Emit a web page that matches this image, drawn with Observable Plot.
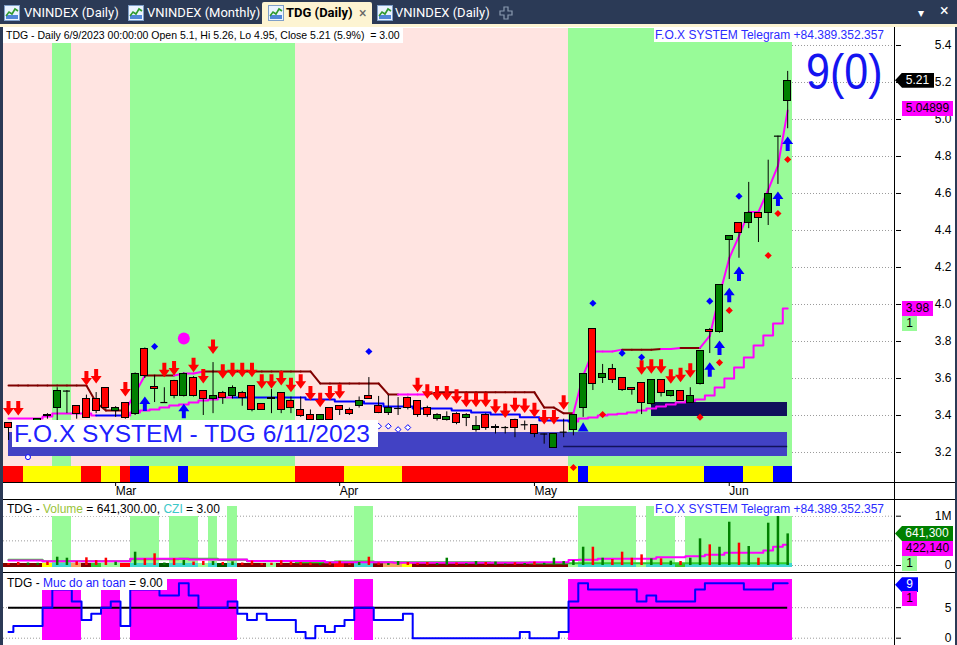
<!DOCTYPE html>
<html><head><meta charset="utf-8"><title>TDG (Daily)</title>
<script src="https://cdn.jsdelivr.net/npm/d3@7"></script>
<script src="https://cdn.jsdelivr.net/npm/@observablehq/plot@0.6"></script>
<style>
html,body{margin:0;padding:0;background:#2b3a56;}
#root{position:relative;width:957px;height:645px;overflow:hidden;background:#2b3a56;font-family:"Liberation Sans",Arial,sans-serif;}
.abs{position:absolute;}
.ra svg text{text-anchor:end;}
.ma svg text{text-anchor:start;}
.tabtxt{position:absolute;top:4px;font-family:Roboto,"Liberation Sans",Arial,sans-serif;font-size:13px;line-height:18px;color:#fff;white-space:nowrap;}
.icon{position:absolute;top:5px;width:16px;height:16px;}
.lbl{position:absolute;font-size:12px;line-height:15px;height:15px;text-align:center;white-space:nowrap;}
.hl{position:absolute;background:#000;height:1px;}
</style></head>
<body><div id="root">
  <!-- tab bar -->
  <div class="abs" style="left:262px;top:2px;width:110px;height:25px;background:#fdf4d2;border-radius:2px 2px 0 0"></div>
  <div class="abs" style="left:0;top:24px;width:957px;height:3px;background:#fdf4d2"></div>
  <div id="icons"></div>
  <div class="tabtxt" style="left:24px">VNINDEX (Daily)</div>
  <div class="tabtxt" style="left:147px">VNINDEX (Monthly)</div>
  <div class="tabtxt" style="left:286px;color:#000;font-weight:bold">TDG (Daily)</div>
  <div class="tabtxt" style="left:359px;color:#666;font-size:14px">×</div>
  <div class="tabtxt" style="left:395px">VNINDEX (Daily)</div>
  <svg class="abs" style="left:499px;top:6px" width="14" height="14"><path d="M5 1H9V5H13V9H9V13H5V9H1V5H5Z" fill="none" stroke="#8a9ab0" stroke-width="1.2"/></svg>
  <div class="tabtxt" style="left:918px;font-size:12px">▾</div>
  <div class="tabtxt" style="left:940px;font-size:16px;top:2px">×</div>
  <!-- white panes -->
  <div class="abs" style="left:3px;top:27px;width:952px;height:618px;background:#fff"></div>
  <div id="stripBox" class="abs ma" style="left:0;top:466px"></div>
  <div id="volBox" class="abs ra" style="left:0;top:500px"></div>
  <div id="safeBox" class="abs ra" style="left:0;top:573px"></div>
  <div id="mainBox" class="abs ra" style="left:0;top:28px"></div>
  <!-- separators -->
  <div class="hl" style="left:3px;top:482px;width:952px"></div>
  <div class="hl" style="left:3px;top:499px;width:952px"></div>
  <div class="hl" style="left:3px;top:572px;width:952px"></div>
  <div class="abs" style="left:894px;top:27px;width:1px;height:618px;background:#000"></div>
  <!-- pane texts -->
  <div class="abs" style="left:3px;top:28px;background:#fff;padding:0 3px;font-size:10.5px;line-height:15px;white-space:pre;color:#000">TDG - Daily 6/9/2023 00:00:00 Open 5.1, Hi 5.26, Lo 4.95, Close 5.21 (5.9%)  = 3.00</div>
  <div class="abs" style="right:73px;top:28px;background:#fff;color:#2b2bff;font-size:12px;line-height:14px;padding-left:1px">F.O.X SYSTEM Telegram +84.389.352.357</div>
  <div class="abs" style="left:806px;top:47px;color:#1414f0;font-size:43px;line-height:43px;transform:scaleY(1.17);transform-origin:0 0">9(0)</div>
  <div class="abs" style="left:12px;top:420px;width:364px;height:27px;background:#fff;color:#2020ff;font-size:24.5px;line-height:27px;padding-left:2px;white-space:nowrap">F.O.X SYSTEM - TDG 6/11/2023</div>
  <div class="abs" style="left:3px;top:502px;background:#fff;padding:0 4px;font-size:12px;line-height:14px;white-space:nowrap">TDG - <span style="color:#9ac43a">Volume</span> = 641,300.00, <span style="color:#3cc8c8">CZI</span> = 3.00</div>
  <div class="abs" style="right:73px;top:502px;background:#fff;color:#2b2bff;font-size:12px;line-height:14px;padding-left:1px">F.O.X SYSTEM Telegram +84.389.352.357</div>
  <div class="abs" style="left:3px;top:576px;background:#fff;padding:0 4px;font-size:12px;line-height:14px;white-space:nowrap">TDG - <span style="color:#1a1aff">Muc do an toan</span> = 9.00</div>
  <div id="labels"></div>
</div>
<script>
// ===================== DATA =====================
const monthNames = ["Mar", "Apr", "May", "Jun"];
const monthStartIdx = [11, 34, 54, 74];
const priceTicks = [3.2, 3.4, 3.6, 3.8, 4.0, 4.2, 4.4, 4.6, 4.8, 5.0, 5.2, 5.4];
const volTicks = [0, 1000];          // thousands of shares
const volGridLines = [0, 500, 1000];
const safetyTicks = [0, 5];

const open = [3.357,3.35,3.34,3.37,3.40,3.438,3.53,3.454,3.49,3.49,
  3.546,3.422,3.465,3.41,3.762,3.553,3.47,3.584,3.503,3.60,
  3.53,3.49,3.519,3.503,3.524,3.557,3.46,3.497,3.519,3.481,
  3.432,3.405,3.378,3.438,3.449,3.432,3.449,3.503,3.449,3.416,
  3.438,3.492,3.476,3.443,3.38,3.378,3.41,3.389,3.32,3.40,
  3.33,3.335,3.378,3.35,3.35,3.30,3.227,3.31,3.32,3.438,
  3.87,3.60,3.649,3.60,3.551,3.573,3.46,3.59,3.503,3.53,
  3.47,3.568,3.86,3.849,4.346,4.443,4.438,4.497,4.497,4.91,
  5.1];
const high = [3.36,3.36,3.36,3.38,3.41,3.55,3.535,3.454,3.51,3.524,
  3.55,3.448,3.47,3.63,3.765,3.616,3.55,3.59,3.63,3.61,
  3.53,3.686,3.53,3.56,3.53,3.56,3.46,3.54,3.52,3.50,
  3.50,3.43,3.40,3.44,3.45,3.44,3.50,3.605,3.503,3.508,
  3.497,3.50,3.48,3.45,3.41,3.42,3.415,3.41,3.395,3.41,
  3.35,3.34,3.38,3.37,3.35,3.30,3.30,3.38,3.40,3.627,
  3.87,3.676,3.676,3.60,3.551,3.573,3.59,3.59,3.53,3.53,
  3.55,3.751,3.87,4.108,4.373,4.443,4.66,4.497,4.78,4.91,
  5.26];
const low = [3.265,3.30,3.30,3.33,3.38,3.37,3.41,3.38,3.384,3.41,
  3.43,3.39,3.38,3.40,3.60,3.47,3.465,3.49,3.50,3.50,
  3.40,3.41,3.46,3.49,3.45,3.42,3.43,3.41,3.41,3.41,
  3.39,3.37,3.36,3.36,3.40,3.40,3.44,3.49,3.41,3.40,
  3.40,3.43,3.39,3.39,3.37,3.37,3.35,3.34,3.31,3.32,
  3.30,3.30,3.28,3.32,3.28,3.245,3.227,3.28,3.29,3.39,
  3.535,3.573,3.573,3.53,3.51,3.405,3.455,3.50,3.50,3.48,
  3.47,3.565,3.735,3.845,4.135,4.25,4.41,4.335,4.427,4.649,
  4.95];
const close = [3.33,3.33,3.35,3.38,3.395,3.535,3.532,3.41,3.384,3.427,
  3.438,3.438,3.384,3.627,3.616,3.545,3.47,3.503,3.627,3.503,
  3.49,3.508,3.497,3.551,3.497,3.432,3.432,3.49,3.432,3.443,
  3.395,3.378,3.405,3.378,3.432,3.41,3.481,3.49,3.416,3.438,
  3.438,3.443,3.40,3.40,3.40,3.39,3.357,3.40,3.341,3.33,
  3.34,3.335,3.33,3.35,3.30,3.30,3.30,3.31,3.40,3.627,
  3.568,3.627,3.59,3.54,3.54,3.47,3.59,3.519,3.53,3.481,
  3.508,3.751,3.85,4.108,4.37,4.389,4.492,4.47,4.595,4.91,
  5.21];

const upperLine = [3.562,3.562,3.562,3.562,3.562,3.562,3.562,3.562,3.562,3.47,
  3.427,3.427,3.427,3.52,3.616,3.616,3.616,3.616,3.627,3.627,
  3.638,3.638,3.638,3.638,3.638,3.638,3.638,3.638,3.638,3.638,
  3.638,3.638,3.573,3.573,3.573,3.573,3.573,3.573,3.573,3.514,
  3.514,3.514,3.514,3.514,3.525,3.525,3.525,3.525,3.525,3.525,
  3.525,3.525,3.525,3.525,3.525,3.443,3.443,3.412,3.412,3.616,
  3.746,3.746,3.746,3.756,3.756,3.756,3.756,3.76,3.76,3.765,
  3.765,3.765,3.83,4.05,4.25,4.37,4.50,4.50,4.62,4.75,
  5.04899];
const upperMagentaSegments = [12,13,17,18,19,40,41,42,58,59,60,61,62,67,68,71,72,73,74,75,76,77,78,79];

const lowerLine = [3.384,3.384,3.384,3.384,3.395,3.411,3.411,3.411,3.411,3.40,
  3.40,3.40,3.40,3.416,3.427,3.432,3.443,3.454,3.459,3.47,
  3.481,3.486,3.497,3.497,3.497,3.497,3.497,3.497,3.497,3.497,
  3.497,3.486,3.486,3.486,3.476,3.476,3.476,3.465,3.465,3.449,
  3.449,3.449,3.438,3.438,3.438,3.438,3.427,3.427,3.416,3.416,
  3.405,3.405,3.405,3.39,3.39,3.373,3.373,3.373,3.368,3.384,
  3.389,3.40,3.405,3.41,3.416,3.427,3.438,3.449,3.459,3.47,
  3.478,3.486,3.508,3.551,3.60,3.659,3.714,3.778,3.832,3.897,
  3.978];
const lowerMagentaRanges = [[0, 8], [12, 22], [58, 80]];

const trendGreenRanges = [[5, 6], [13, 29], [58, 80]];
const signalStrip = [[0,1,"r"],[2,7,"y"],[8,9,"r"],[10,11,"y"],[12,12,"r"],[13,14,"b"],[15,17,"y"],
  [18,18,"b"],[19,29,"y"],[30,34,"r"],[35,40,"y"],[41,57,"r"],[58,58,"y"],[59,59,"b"],[60,71,"y"],
  [72,75,"b"],[76,78,"y"],[79,80,"b"]];

const sellIdx = [0,1,8,9,12,16,17,19,20,21,22,23,24,25,26,27,28,29,30,31,32,33,34,
  42,43,44,45,46,47,48,49,50,51,52,53,54,55,56,57,65,66,67,68,69,70];
const sellTip = [3.40,3.40,3.562,3.573,3.503,3.607,3.616,3.634,3.573,3.733,3.598,3.607,3.607,3.607,3.544,3.544,3.562,3.526,3.544,3.481,3.445,3.481,3.49,
  3.526,3.49,3.481,3.481,3.463,3.445,3.445,3.445,3.409,3.387,3.418,3.413,3.391,3.351,3.351,3.431,3.62,3.625,3.625,3.571,3.58,3.604];
const buyIdx = [14, 18, 72, 73, 74, 75, 79, 80];
const buyTip = [3.503, 3.463, 3.688, 3.805, 4.09, 4.205, 4.611, 4.908];
const blueDotIdx = [15, 37, 60, 63, 65, 72, 75];
const blueDotP = [3.773, 3.746, 4.007, 3.737, 3.715, 4.018, 4.585];
const redDotIdx = [58, 61, 71, 73, 74, 78, 79, 80];
const redDotP = [3.119, 3.405, 3.391, 3.686, 3.968, 4.265, 4.492, 4.784];
const hollowIdx = [38, 39, 40, 41];
const hollowP = [3.342, 3.342, 3.324, 3.335];
const circleIdx = [2], circleP = [3.175];
const bigDotIdx = [18], bigDotP = [3.816];
const triIdx = [59], triP = [3.33];
const supportZone = [{from: 0, to: 80, lo: 3.178, hi: 3.308}];
const supportLine = [{from: 57, to: 80, p: 3.232}];
const boxZone = [{from: 66, to: 80, lo: 3.395, hi: 3.47}];

// volume, thousands of shares
const volume = [40,60,50,45,70,168,148,75,156,100,
  148,67,34,270,136,237,50,136,101,70,
  81,80,60,75,50,90,40,45,95,70,
  60,50,40,60,85,40,60,168,50,40,
  80,60,45,60,40,148,50,35,80,60,
  70,30,55,40,70,45,148,80,101,371,
  371,148,122,270,148,216,135,135,88,81,
  148,541,419,371,878,453,385,148,858,1000,
  641.3];
const volMaGreen = [116,116,116,116,88,88,88,88,88,88,
  88,88,88,125,125,125,125,125,136,136,
  136,136,116,116,116,88,88,88,88,88,
  67,67,67,67,80,80,80,80,67,67,
  67,67,67,67,67,67,67,67,67,67,
  60,60,60,60,45,45,45,45,45,45,
  45,45,45,45,45,45,45,45,45,45,
  45,45,45,45,45,45,45,45,45,45,
  45];
const volMaMagenta = [100,100,100,100,88,88,88,88,88,88,
  88,88,88,136,136,136,136,136,136,120,
  120,120,120,120,120,90,90,90,90,90,
  90,90,90,67,67,67,67,67,67,67,
  55,55,55,55,55,55,55,55,55,55,
  55,55,55,55,67,67,67,67,110,116,
  116,136,136,136,136,136,136,168,168,168,
  189,189,217,217,258,258,258,258,304,380,
  422.14];
const volZones = [[5,6,1000],[13,15,1000],[17,19,1000],[21,21,1000],[23,23,1200],[36,37,1200],
  [59,64,1200],[66,68,1200],[70,80,1000]];
const volStrip = [[0,3,"dr"],[4,4,"y"],[5,6,"c"],[7,7,"s"],[8,8,"dr"],[9,9,"g"],[10,11,"lg"],[12,12,"r"],
  [13,15,"c"],[16,16,"dg"],[17,19,"c"],[20,20,"lg"],[21,21,"c"],[22,22,"dg"],[23,23,"c"],[24,26,"dr"],
  [27,27,"lg"],[28,33,"dr"],[34,34,"r"],[35,35,"dr"],[36,37,"c"],[38,38,"dr"],[39,40,"s"],[41,41,"y"],
  [42,57,"dr"],[58,58,"lg"],[59,64,"c"],[65,65,"lg"],[66,68,"c"],[69,69,"g"],[70,80,"c"]];

const safety = [1,2,2,2,5,8,8,6,3,4,
  5,6,2,8,8,8,7,7,9,7,
  5,5,5,6,4,3,4,3,3,3,
  1,0,2,1,2,3,5,5,3,3,
  3,4,0,0,0,0,0,0,0,0,
  0,0,0,1,0,0,0,1,6,9,
  8,8,8,8,8,6,7,6,6,6,
  6,8,9,9,9,9,8,8,8,9,
  9];
const safetyLevel = 5;

// ===================== STYLE =====================
const C = {pink: "#ffe4e1", green: "#98fb98", red: "#ff0000", cgreen: "#008000", maroon: "#800000",
  magenta: "#ff00ff", blue: "#0000ff", slate: "#4242c4", navy: "#10105c"};
const STRIP = {r: "#ff0000", y: "#ffff00", b: "#0000ff"};
const VSTRIP = {dr: "#800000", y: "#ffff00", c: "#40d8d0", s: "#f4a460", g: "#32c832", dg: "#005a00", lg: "#98fb98", r: "#ff0000"};
const X_DOMAIN = [-0.513, 91.07];
const W = 957, MR = 62, ML = 3;
const baseStyle = {background: "transparent", overflow: "visible", fontFamily: "'Liberation Sans', Arial, sans-serif", fontSize: "12px", color: "#000"};

// ===================== DERIVED =====================
const inRanges = (i, ranges) => ranges.some(([a, b]) => i >= a && i <= b);
const expand = (ranges, fn) => ranges.flatMap(([a, b, v]) => d3.range(a, b + 1).map(i => fn(i, v)));
const bars = open.map((o, i) => ({i, o, h: high[i], l: low[i], c: close[i]}));
const isDoji = d => Math.abs(d.c - d.o) < 0.004;
const bg = bars.map(d => ({i: d.i, fill: inRanges(d.i, trendGreenRanges) ? C.green : C.pink}));
const stripCells = expand(signalStrip, (i, v) => ({i, fill: STRIP[v]}));
const upperSegs = upperLine.slice(0, -1).map((p, i) => ({i, a: p, b: upperLine[i + 1],
  stroke: upperMagentaSegments.includes(i) ? C.magenta : C.maroon}));
const lowerRuns = [];
{ let run = 0;
  lowerLine.forEach((p, i) => {
    const col = inRanges(i, lowerMagentaRanges) ? C.magenta : C.blue;
    if (i > 0) {
      const prev = inRanges(i - 1, lowerMagentaRanges) ? C.magenta : C.blue;
      if (prev !== col) { lowerRuns.push({i, p, run, stroke: prev}); run++; }
    }
    lowerRuns.push({i, p, run, stroke: col});
  });
}
const pts = (idx, ps) => idx.map((i, k) => ({i, p: ps[k]}));

const arrowDown = {draw(ctx) { ctx.moveTo(-2, -7); ctx.lineTo(2, -7); ctx.lineTo(2, 0); ctx.lineTo(5.5, 0);
  ctx.lineTo(0, 7.5); ctx.lineTo(-5.5, 0); ctx.lineTo(-2, 0); ctx.closePath(); }};
const arrowUp = {draw(ctx) { ctx.moveTo(-2, 7); ctx.lineTo(2, 7); ctx.lineTo(2, 0); ctx.lineTo(5.5, 0);
  ctx.lineTo(0, -7.5); ctx.lineTo(-5.5, 0); ctx.lineTo(-2, 0); ctx.closePath(); }};

// ===================== MAIN PRICE PANE =====================
const MAIN_TOP = 28;
const main = Plot.plot({
  width: W, height: 438, marginLeft: ML, marginRight: MR, marginTop: 0, marginBottom: 0,
  style: baseStyle,
  color: {type: "identity"},
  x: {domain: X_DOMAIN, axis: null},
  y: {domain: [3.12432, 5.49189], axis: "right", ticks: priceTicks, tickFormat: d3.format(".1f"),
      tickSize: 5, tickPadding: 51, label: null},
  marks: [
    Plot.ruleY(priceTicks, {stroke: "#9a9a9a", strokeDasharray: "1,2"}),
    Plot.rect(bg, {x1: d => d.i - 0.5, x2: d => d.i + 0.5, fill: "fill", shapeRendering: "crispEdges"}),
    Plot.rect(supportZone, {x1: "from", x2: "to", y1: "lo", y2: "hi", fill: C.slate, shapeRendering: "crispEdges"}),
    Plot.ruleY(supportLine, {y: "p", x1: "from", x2: "to", stroke: "#12125a", strokeWidth: 1.5}),
    Plot.rect(boxZone, {x1: "from", x2: "to", y1: "lo", y2: "hi", fill: C.navy, shapeRendering: "crispEdges"}),
    Plot.link(upperSegs, {x1: "i", x2: d => d.i + 1, y1: "a", y2: "b", stroke: "stroke", strokeWidth: 2, strokeLinecap: "round"}),
    Plot.line(lowerRuns, {x: "i", y: "p", z: "run", stroke: "stroke", curve: "step", strokeWidth: 2}),
    Plot.ruleX(bars, {x: "i", y1: "l", y2: "h", stroke: "#000"}),
    Plot.rect(bars.filter(d => !isDoji(d)), {x1: d => d.i - 0.36, x2: d => d.i + 0.36,
      y1: d => Math.min(d.o, d.c), y2: d => Math.max(d.o, d.c),
      fill: d => d.c > d.o ? C.cgreen : C.red, stroke: "#000", strokeWidth: 1, shapeRendering: "crispEdges"}),
    Plot.ruleY(bars.filter(isDoji), {y: "c", x1: d => d.i - 0.36, x2: d => d.i + 0.36, stroke: "#000", strokeWidth: 1.2}),
    Plot.dot(pts(sellIdx, sellTip), {x: "i", y: "p", symbol: arrowDown, r: 6, fill: C.red, stroke: "none", dy: -7.5}),
    Plot.dot(pts(buyIdx, buyTip), {x: "i", y: "p", symbol: arrowUp, r: 6, fill: C.blue, stroke: "none", dy: 7.5}),
    Plot.dot(pts(blueDotIdx, blueDotP), {x: "i", y: "p", symbol: "diamond2", r: 3.2, fill: C.blue, stroke: "none"}),
    Plot.dot(pts(redDotIdx, redDotP), {x: "i", y: "p", symbol: "diamond2", r: 3.2, fill: C.red, stroke: "none"}),
    Plot.dot(pts(hollowIdx, hollowP), {x: "i", y: "p", symbol: "diamond2", r: 2.6, fill: "#fff", stroke: C.blue, strokeWidth: 1}),
    Plot.dot(pts(circleIdx, circleP), {x: "i", y: "p", r: 2.5, fill: "#fff", stroke: C.blue, strokeWidth: 1}),
    Plot.dot(pts(bigDotIdx, bigDotP), {x: "i", y: "p", r: 6, fill: C.magenta, stroke: "none"}),
    Plot.dot(pts(triIdx, triP), {x: "i", y: "p", symbol: "triangle", r: 4, fill: C.blue, stroke: "none"})
  ]
});
document.getElementById("mainBox").append(main);

// ===================== SIGNAL STRIP + DATE AXIS =====================
const strip = Plot.plot({
  width: W, height: 33, marginLeft: ML, marginRight: MR, marginTop: 0, marginBottom: 17,
  style: baseStyle,
  color: {type: "identity"},
  x: {domain: X_DOMAIN, ticks: monthStartIdx, tickFormat: d => monthNames[monthStartIdx.indexOf(d)],
      tickSize: 4, tickPadding: 0, label: null},
  marks: [
    Plot.rect(stripCells, {x1: d => d.i - 0.5, x2: d => d.i + 0.5, fill: "fill", shapeRendering: "crispEdges"})
  ]
});
document.getElementById("stripBox").append(strip);

// ===================== VOLUME PANE =====================
const volBars = volume.map((v, i) => ({i, v, stroke: close[i] >= open[i] ? C.cgreen : C.red}));
const volZoneCells = expand(volZones, (i, v) => ({i, top: v}));
const volStripCells = expand(volStrip, (i, v) => ({i, fill: VSTRIP[v]}));
const vol = Plot.plot({
  width: W, height: 71, marginLeft: ML, marginRight: MR, marginTop: 0, marginBottom: 0,
  style: baseStyle,
  color: {type: "identity"},
  x: {domain: X_DOMAIN, axis: null},
  y: {domain: [-121.7, 1318.5], axis: "right", ticks: volTicks, tickFormat: d => d === 0 ? "0" : "1M",
      tickSize: 5, tickPadding: 51, label: null},
  marks: [
    Plot.ruleY(volGridLines, {stroke: "#9a9a9a", strokeDasharray: "1,2"}),
    Plot.rect(volZoneCells, {x1: d => d.i - 0.5, x2: d => d.i + 0.5, y1: 0, y2: "top", fill: C.green, shapeRendering: "crispEdges"}),
    Plot.rect(volStripCells, {x1: d => d.i - 0.5, x2: d => d.i + 0.5, y1: -38, y2: 38, fill: "fill", shapeRendering: "crispEdges"}),
    Plot.line(volMaGreen.map((v, i) => ({i, v})), {x: "i", y: "v", stroke: "#2ed02e", strokeWidth: 2, curve: "step"}),
    Plot.line(volMaMagenta.map((v, i) => ({i, v})), {x: "i", y: "v", stroke: C.magenta, strokeWidth: 2, curve: "step"}),
    Plot.ruleX(volBars, {x: "i", y1: 0, y2: "v", stroke: "stroke", strokeWidth: 2.5})
  ]
});
document.getElementById("volBox").append(vol);

// ===================== SAFETY PANE =====================
const safePts = safety.map((v, i) => ({i, v}));
const safe = Plot.plot({
  width: W, height: 72, marginLeft: ML, marginRight: MR, marginTop: 0, marginBottom: 0,
  style: baseStyle,
  x: {domain: X_DOMAIN, axis: null},
  y: {domain: [-1.197, 10.607], axis: "right", ticks: safetyTicks, tickFormat: d3.format("d"),
      tickSize: 5, tickPadding: 51, label: null},
  marks: [
    Plot.ruleY(safetyTicks, {stroke: "#9a9a9a", strokeDasharray: "1,2"}),
    Plot.rect(safePts.filter(d => d.v >= safetyLevel), {x1: d => d.i - 0.5, x2: d => d.i + 0.5,
      y1: -0.38, y2: 9.57, fill: C.magenta, shapeRendering: "crispEdges"}),
    Plot.ruleY([safetyLevel], {x1: 0, x2: safety.length - 1, stroke: "#000", strokeWidth: 2}),
    Plot.line(safePts, {x: "i", y: "v", curve: "step", stroke: C.blue, strokeWidth: 2})
  ]
});
document.getElementById("safeBox").append(safe);

// ===================== VALUE LABELS (positioned by the plots' scales) =====================
function yAt(chart, top, v) {
  const s = chart.scale("y");
  const f = s.apply ? (x => s.apply(x)) : d3.scaleLinear(s.domain, s.range);
  return top + f(v);
}
const labels = document.getElementById("labels");
function box(text, left, width, yCenter, bg, fg, arrow) {
  const d = document.createElement("div");
  d.className = "lbl";
  d.textContent = text;
  Object.assign(d.style, {left: left + "px", width: width + "px", top: (yCenter - 7.5) + "px",
    background: bg, color: fg});
  if (arrow) { d.style.clipPath = "polygon(0 50%, 7px 0, 100% 0, 100% 100%, 7px 100%)"; d.style.paddingLeft = "6px"; d.style.boxSizing = "border-box"; }
  labels.append(d);
}
const lastClose = close[close.length - 1];
const lastUpper = upperLine[upperLine.length - 1];
const lastLower = lowerLine[lowerLine.length - 1];
box(lastClose.toFixed(2), 895, 39, yAt(main, MAIN_TOP, lastClose), "#000", "#fff", true);
box(lastUpper.toFixed(5), 902, 51, yAt(main, MAIN_TOP, lastUpper) - 1, C.magenta, "#000");
const yLow = yAt(main, MAIN_TOP, lastLower);
box(lastLower.toFixed(2), 902, 31, yLow, C.magenta, "#000");
box("1", 902, 15, yLow + 15, C.green, "#000");
const lastVol = volume[volume.length - 1] * 1000, lastMa = volMaMagenta[volMaMagenta.length - 1] * 1000;
const yV = yAt(vol, 500, lastVol / 1000);
box(d3.format(",")(Math.round(lastVol)), 895, 58, yV, C.cgreen, "#fff", true);
box(d3.format(",")(Math.round(lastMa)), 902, 51, yV + 15, C.magenta, "#000");
box("1", 902, 15, yV + 30, C.green, "#000");
const lastSafe = safety[safety.length - 1];
const yS = yAt(safe, 573, lastSafe) + 2;
box(String(lastSafe), 895, 23, yS, C.blue, "#fff", true);
box("1", 902, 15, yS + 14, C.magenta, "#000");

// ===================== TAB ICONS =====================
const iconSvg = '<svg width="16" height="16" viewBox="0 0 16 16"><rect x="0.5" y="0.5" width="15" height="15" fill="#eaf3ff" stroke="#7f9fc8"/><rect x="2" y="10" width="12" height="4" fill="#4f86d8"/><path d="M2 11 L5 7 L8 9 L11 4 L14 6" fill="none" stroke="#2f9a2f" stroke-width="1.6"/></svg>';
const icons = document.getElementById("icons");
[4, 128, 268, 377].forEach(x => { const d = document.createElement("div"); d.className = "icon"; d.style.left = x + "px"; d.innerHTML = iconSvg; icons.append(d); });
</script>
</body></html>
